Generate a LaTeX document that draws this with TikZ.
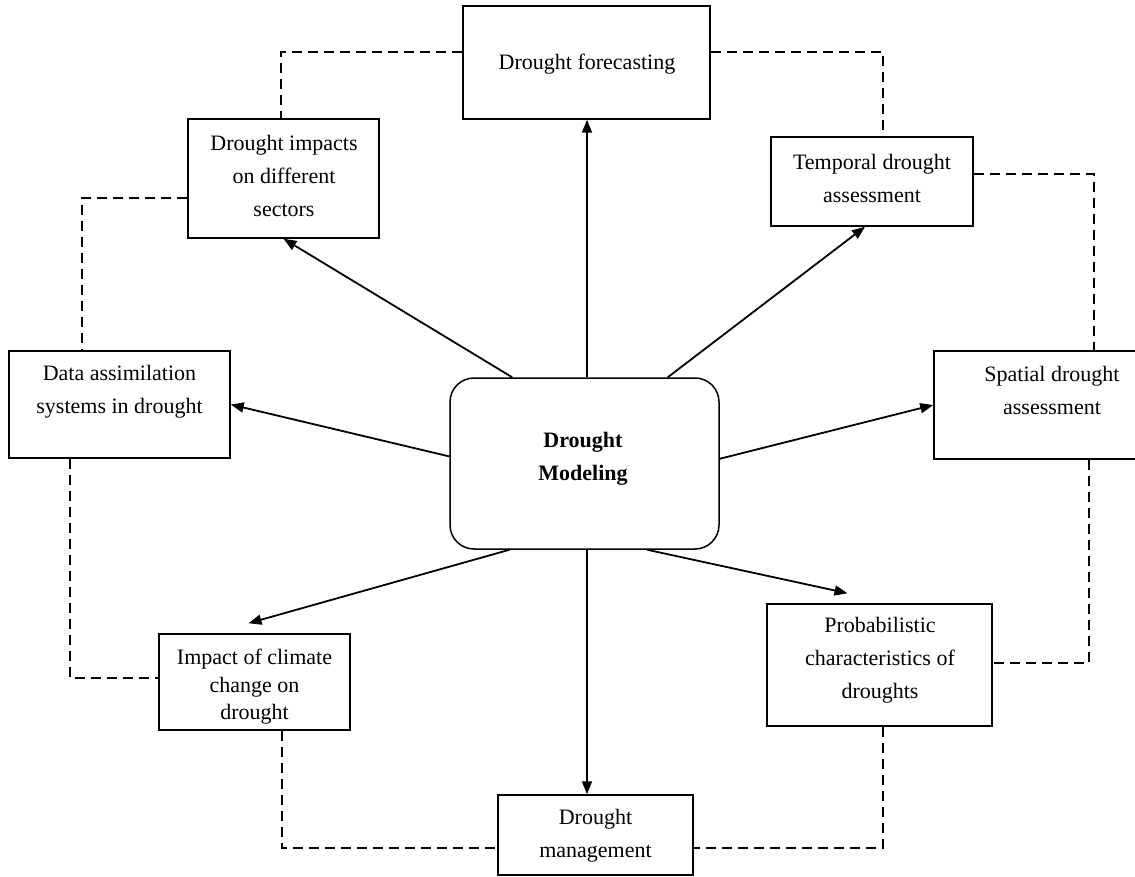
\documentclass[tikz,border=0pt]{standalone}
\usepackage{fontspec}
\setmainfont{Liberation Serif}
\usetikzlibrary{arrows.meta}

\tikzset{
  box/.style={draw, line width=1.5pt, rectangle, inner sep=0pt},
  hub/.style={box, rounded corners=24pt},
  lbl/.style={align=center, inner sep=0pt, font=\fontsize{22}{33}\selectfont},
  tightlbl/.style={lbl, font=\fontsize{22}{27.5}\selectfont},
  link/.style={line width=1.8pt, -{Triangle[length=13pt,width=10pt]}},
  tie/.style={line width=1.5pt, dash pattern=on 10pt off 6pt}
}

\begin{document}
\begin{tikzpicture}[x=1pt, y=-1pt]
\useasboundingbox (0,0) rectangle (1135,877);

% boxes
\node[hub, minimum width=269pt, minimum height=171pt] (mod) at (584.5,463.5) {};
\node[box, minimum width=247pt, minimum height=113pt] (forecast) at (586.5,62.5) {};
\node[box, minimum width=191pt, minimum height=119pt] (impacts) at (283.5,178.5) {};
\node[box, minimum width=202pt, minimum height=89pt] (temp) at (872,181.5) {};
\node[box, minimum width=221pt, minimum height=107pt] (data) at (119.5,404.5) {};
\node[box, minimum width=236pt, minimum height=108pt] (spatial) at (1052,405) {};
\node[box, minimum width=191pt, minimum height=96pt] (clim) at (254.5,682) {};
\node[box, minimum width=225pt, minimum height=122pt] (prob) at (879.5,665) {};
\node[box, minimum width=195pt, minimum height=80pt] (mgmt) at (595.5,835) {};

% texts
\node[lbl] (mod-t) at (583,459) {\textbf{Drought}\\\textbf{Modeling}};
\node[lbl] (forecast-t) at (587,64) {Drought forecasting};
\node[lbl] (impacts-t) at (284,176) {Drought impacts\\on different\\sectors};
\node[lbl] (temp-t) at (872,178) {Temporal drought\\assessment};
\node[lbl] (data-t) at (119.5,392) {Data assimilation\\systems in drought};
\node[lbl] (spatial-t) at (1052,390) {Spatial drought\\assessment};
\node[tightlbl] (clim-t) at (254.5,687) {Impact of climate\\change on\\drought};
\node[lbl] (prob-t) at (880,660) {Probabilistic\\characteristics of\\droughts};
\node[lbl] (mgmt-t) at (595.5,836) {Drought\\management};

% arrows from the central box
\coordinate (axis) at ([xshift=0.5pt]forecast.south);
\draw[link] (axis |- mod.north) -- (axis);
\draw[link] (mod.130.3) -- (impacts.south);
\draw[link] (mod.46) -- ([xshift=-7pt]temp.south);
\draw[link] (mod.177.7) -- (data.east);
\draw[link] (mod.2.3) -- (spatial.west);
\draw[link] (mod.229.7) -- ([xshift=-6pt,yshift=10pt]clim.north);
\draw[link] (mod.306.2) -- ([xshift=-32pt,yshift=10pt]prob.north);
\draw[link] (axis |- mod.south) -- (axis |- mgmt.north);

% dashed ring between neighbouring boxes
\draw[tie] ([yshift=10.5pt]forecast.west) -| ([xshift=-2.5pt]impacts.north);
\draw[tie] ([yshift=10.5pt]forecast.east) -| ([xshift=11pt]temp.north);
\draw[tie] ([yshift=-19.5pt]impacts.west) -| ([xshift=-37.5pt]data.north);
\draw[tie] ([yshift=7.5pt]temp.east) -| ([xshift=42pt]spatial.north);
\draw[tie] ([xshift=-49.5pt]data.south) |- ([yshift=4pt]clim.west);
\draw[tie] ([xshift=37pt]spatial.south) |- ([yshift=2pt]prob.east);
\draw[tie] ([xshift=27.5pt]clim.south) |- ([yshift=-13pt]mgmt.west);
\draw[tie] ([xshift=3.5pt]prob.south) |- ([yshift=-13pt]mgmt.east);
\end{tikzpicture}
\end{document}
